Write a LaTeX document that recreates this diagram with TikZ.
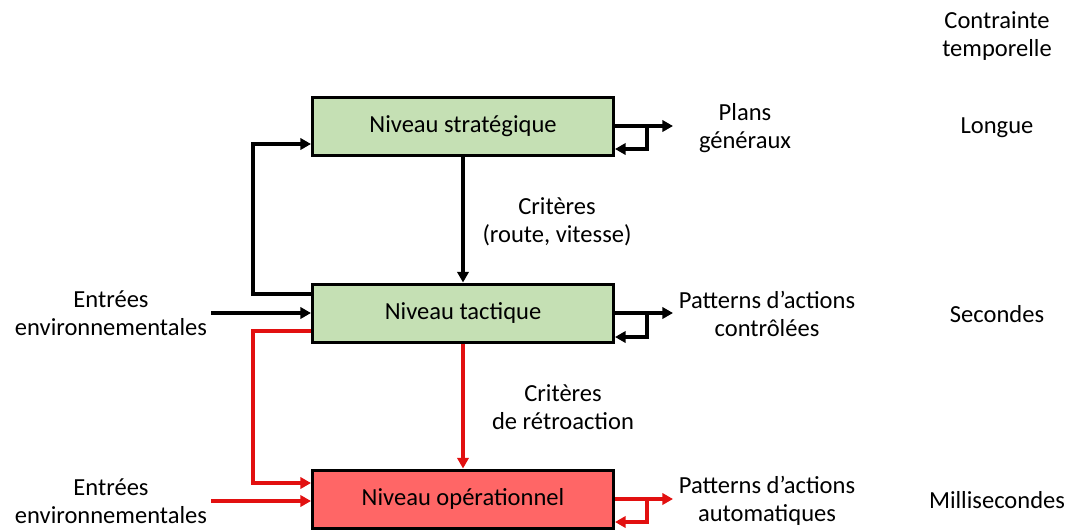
\documentclass[tikz,border=0pt]{standalone}
\usepackage{fontspec}
\setmainfont{Carlito}
\usetikzlibrary{arrows.meta}
\definecolor{vertniv}{RGB}{197,224,180}
\definecolor{rougeniv}{RGB}{255,102,102}
\definecolor{rougefl}{RGB}{226,16,16}

\begin{document}
\begin{tikzpicture}[x=0.75pt,y=-0.75pt,font=\fontsize{18.4}{21}\selectfont,
  niveau/.style={draw=black, line width=2.25pt, minimum width=225.75pt, minimum height=43.5pt, inner sep=0pt},
  fl/.style={line width=2.5pt},
  lbl/.style={align=center, inner sep=0pt}]
\def\l{8pt}
\def\w{8.5pt}
\useasboundingbox (0,0) rectangle (1069,529);
% niveaux
\node [niveau, fill=vertniv, name=strat]   at (463,126) {Niveau stratégique};
\node [niveau, fill=vertniv, name=tact]    at (463,313) {Niveau tactique};
\node [niveau, fill=rougeniv, name=oper]   at (463,499) {Niveau opérationnel};
% textes
\node [lbl, name=contr]  at (997,36)  {Contrainte\\temporelle};
\node [lbl, name=longue] at (997,128) {Longue};
\node [lbl, name=sec]    at (997,314) {Secondes};
\node [lbl, name=milli]  at (997,500) {Millisecondes};
\node [lbl, name=plans]  at (745,128) {Plans\\généraux};
\node [lbl, name=pat1]   at (767,314) {Patterns d’actions\\contrôlées};
\node [lbl, name=pat2]   at (767,501) {Patterns d’actions\\automatiques};
\node [lbl, name=crit1]  at (557,222) {Critères\\(route, vitesse)};
\node [lbl, name=crit2]  at (563,407) {Critères\\de rétroaction};
\node [lbl, inner xsep=3pt, name=ent1] at (111,313) {Entrées\\environnementales};
\node [lbl, inner xsep=3pt, name=ent2] at (111,501) {Entrées\\environnementales};
% points de passage
\coordinate (s1) at (673,126);
\coordinate (s2) at (673,313);
\coordinate (s3) at (673,499);
\coordinate (r1) at (647,126);
\coordinate (r2) at (647,313);
\coordinate (r3) at (647,499);
\coordinate (f1) at (647,149);
\coordinate (f2) at (647,337);
\coordinate (f3) at (647,522);
\coordinate (g1) at (253,294);
\coordinate (g2) at (253,144);
\coordinate (g3) at (253,331);
\coordinate (g4) at (253,483);
% fleches noires
\draw [fl,-{Triangle[length=\l, width=\w]}](strat) -- (tact);
\draw [fl,-{Triangle[length=\l, width=\w]}](strat.east) -- (s1);
\draw [fl,-{Triangle[length=\l, width=\w]}](r1) -- (f1) -- (strat.east |- f1);
\draw [fl,-{Triangle[length=\l, width=\w]}](tact.east) -- (s2);
\draw [fl,-{Triangle[length=\l, width=\w]}](r2) -- (f2) -- (tact.east |- f2);
\draw [fl,-{Triangle[length=\l, width=\w]}](tact.west |- g1) -- (g1) -- (g2) -- (strat.west |- g2);
\draw [fl,-{Triangle[length=\l, width=\w]}](ent1.east) -- (tact.west |- ent1.east);
% fleches rouges
\draw [fl,rougefl,-{Triangle[length=\l, width=\w]}](tact) -- (oper);
\draw [fl,rougefl,-{Triangle[length=\l, width=\w]}](oper.east) -- (s3);
\draw [fl,rougefl,-{Triangle[length=\l, width=\w]}](r3) -- (f3) -- (oper.east |- f3);
\draw [fl,rougefl,-{Triangle[length=\l, width=\w]}](tact.west |- g3) -- (g3) -- (g4) -- (oper.west |- g4);
\draw [fl,rougefl,-{Triangle[length=\l, width=\w]}](ent2.east) -- (oper.west |- ent2.east);
\end{tikzpicture}
\end{document}
